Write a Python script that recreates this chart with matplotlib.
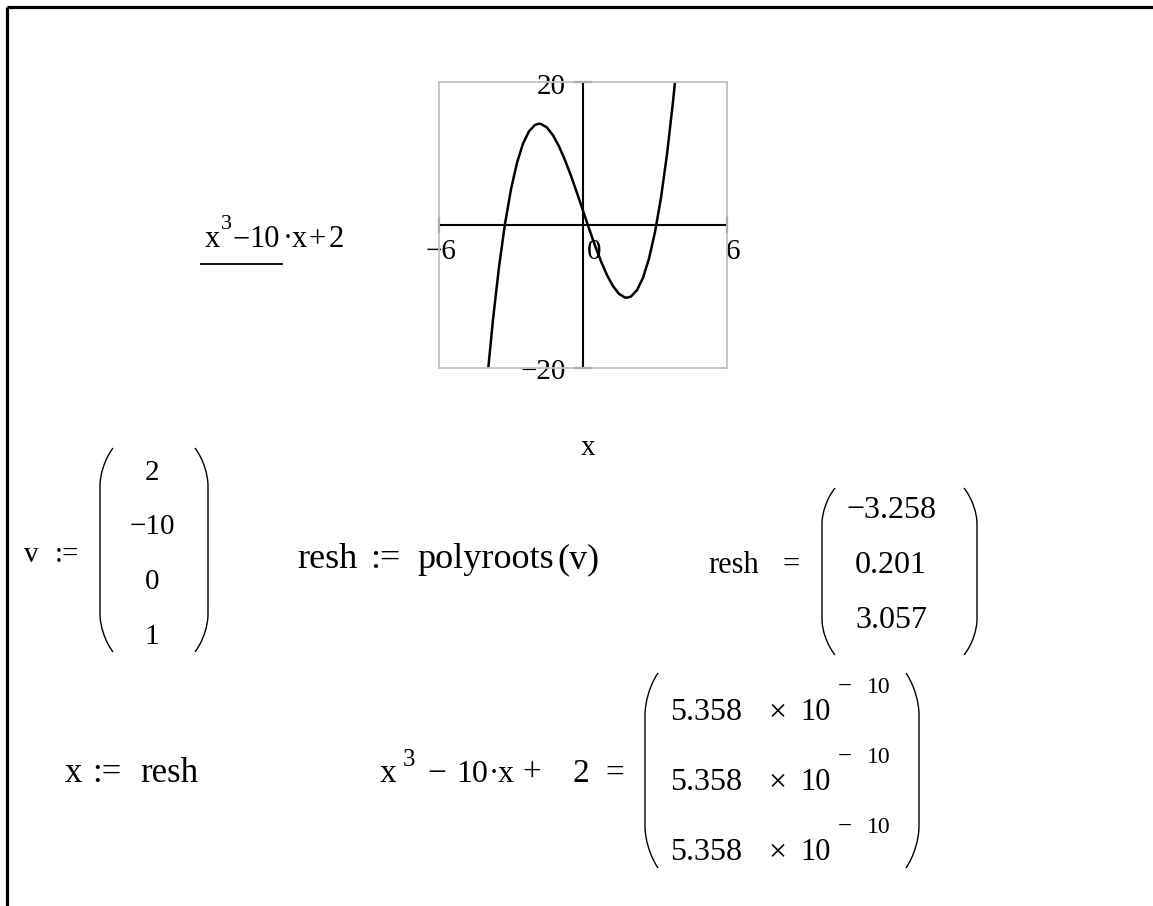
import matplotlib
matplotlib.use('Agg')
import matplotlib.pyplot as plt
from matplotlib.path import Path
from matplotlib.patches import PathPatch

# values
curve_x = [-3.95, -3.75, -3.5, -3.25, -3.0, -2.75, -2.5, -2.25, -2.0, -1.83, -1.75,
           -1.5, -1.25, -1.0, -0.75, -0.5, -0.25, 0.0, 0.25, 0.5, 0.75, 1.0, 1.25,
           1.5, 1.75, 1.83, 2.0, 2.25, 2.5, 2.75, 3.0, 3.25, 3.5, 3.75, 3.85]
curve_y = [-20.13, -13.23, -5.88, 0.17, 5.0, 8.70, 11.38, 13.11, 14.0, 14.17, 14.14,
           13.63, 12.55, 11.0, 9.08, 6.88, 4.48, 2.0, -0.48, -2.88, -5.08, -7.0, -8.55,
           -9.63, -10.14, -10.17, -10.0, -9.11, -7.38, -4.70, -1.0, 3.83, 9.88, 17.23, 20.57]
x_range = [-6, 6]
y_range = [-20, 20]
v_vals = [2, -10, 0, 1]
roots = [-3.258, 0.201, 3.057]
residual_mant = [5.358, 5.358, 5.358]
residual_exp = [-10, -10, -10]

W, H = 1153, 906
FONT = 'Liberation Serif'

fig = plt.figure(figsize=(W / 100, H / 100), dpi=100)
fig.patch.set_facecolor('white')

# full-figure axes in pixel units for the worksheet text
bg = fig.add_axes([0, 0, 1, 1])
bg.set_xlim(0, W)
bg.set_ylim(H, 0)
bg.axis('off')


def txt(x, y, s, size, ha='left', va='baseline'):
    bg.text(x, y, s, fontsize=size, family=FONT, ha=ha, va=va, color='black')


def num(v):
    return f'{v:g}'.replace('-', '\u2212')


def paren(x, top, bottom, side, w=13, c=38):
    # tall matrix bracket: straight middle, curved ends
    if side == 'left':
        xo, xi = x + w, x
    else:
        xo, xi = x, x + w
    verts = [(xo, top), (xo + (xi - xo) * 0.65, top + c * 0.3), (xi, top + c * 0.7), (xi, top + c),
             (xi, bottom - c),
             (xi, bottom - c * 0.7), (xo + (xi - xo) * 0.65, bottom - c * 0.3), (xo, bottom)]
    codes = [Path.MOVETO, Path.CURVE4, Path.CURVE4, Path.CURVE4, Path.LINETO,
             Path.CURVE4, Path.CURVE4, Path.CURVE4]
    bg.add_patch(PathPatch(Path(verts, codes), fill=False, lw=1.0, color='black'))


# worksheet frame (left and top edges)
bg.plot([7, 7], [7, H], color='black', lw=2.3, solid_capstyle='butt')
bg.plot([7, W], [7, 7], color='black', lw=2.3, solid_capstyle='butt')

# plotted expression label
txt(205, 247, 'x', 22)
txt(221, 229, '3', 16)
txt(232, 247, '\u2212', 22)
txt(249, 247, '10', 22)
txt(283, 247, '\u00b7', 22)
txt(292, 247, 'x', 22)
txt(309, 247, '+', 22)
txt(329, 247, '2', 22)
bg.plot([201, 282], [264, 264], color='black', lw=1.3)

# tick labels of the graph
txt(566, 87, num(y_range[1]), 21, ha='right', va='center')
txt(566, 372, num(y_range[0]), 21, ha='right', va='center')
txt(426, 252, num(x_range[0]), 21, va='center')
txt(587, 252, '0', 21, va='center')
txt(726, 252, num(x_range[1]), 21, va='center')
txt(588, 448, 'x', 21, ha='center', va='center')

# v := (...)
txt(24, 562, 'v', 21)
txt(55, 562, ':=', 21)
for i, v in enumerate(v_vals):
    txt(152, 480 + 54.5 * i, num(v), 21, ha='center')
paren(100, 448, 652, 'left')
paren(195, 448, 652, 'right')

# resh := polyroots(v)
txt(297, 568, 'resh', 26)
txt(370, 568, ':=', 26)
txt(417, 568, 'polyroots', 26)
txt(557, 568, '(v)', 26)

# resh = (...)
txt(708, 573, 'resh', 22)
txt(783, 573, '=', 22)
for i, r in enumerate(roots):
    txt(891, 518 + 55 * i, num(r), 23, ha='center')
paren(822, 488, 655, 'left', c=36)
paren(964, 488, 655, 'right', c=36)

# x := resh
txt(65, 782, 'x', 25)
txt(92, 782, ':=', 25)
txt(140, 782, 'resh', 25)

# x^3 - 10 x + 2 = (...)
txt(380, 782, 'x', 24)
txt(403, 766, '3', 18)
txt(427, 782, '\u2212', 24)
txt(456, 782, '10', 23)
txt(489, 782, '\u00b7', 22)
txt(498, 782, 'x', 23)
txt(522, 782, '+', 24)
txt(572, 782, '2', 24)
txt(605, 782, '=', 24)
for i, (m, e) in enumerate(zip(residual_mant, residual_exp)):
    yb = 720 + 70 * i
    txt(670, yb, f'{m:.3f}', 23)
    txt(768, yb, '\u00d7', 23)
    txt(800, yb, '10', 22)
    txt(838, yb - 27, '\u2212', 18)
    txt(867, yb - 27, str(abs(e)), 17)
paren(645, 673, 868, 'left', c=42)
paren(906, 673, 868, 'right', c=42)

# the graph
ax = fig.add_axes([439 / W, 1 - 368 / H, 288 / W, 286 / H])
ax.set_xlim(*x_range)
ax.set_ylim(*y_range)
ax.set_xticks([])
ax.set_yticks([])
for s in ax.spines.values():
    s.set_color('#c0c0c0')
    s.set_linewidth(1.3)
ax.patch.set_alpha(0)
ax.axhline(0, color='black', lw=1.5)
ax.axvline(0, color='black', lw=1.5)
for xv in x_range:
    ax.plot([xv, xv], [-1.0, 1.0], color='black', lw=1.5, clip_on=False)
for yv in y_range:
    ax.plot([-0.35, 0.35], [yv, yv], color='black', lw=1.5, clip_on=False)
ax.plot(curve_x, curve_y, color='black', lw=1.8)

fig.savefig('out.png', dpi=100, facecolor='white')
